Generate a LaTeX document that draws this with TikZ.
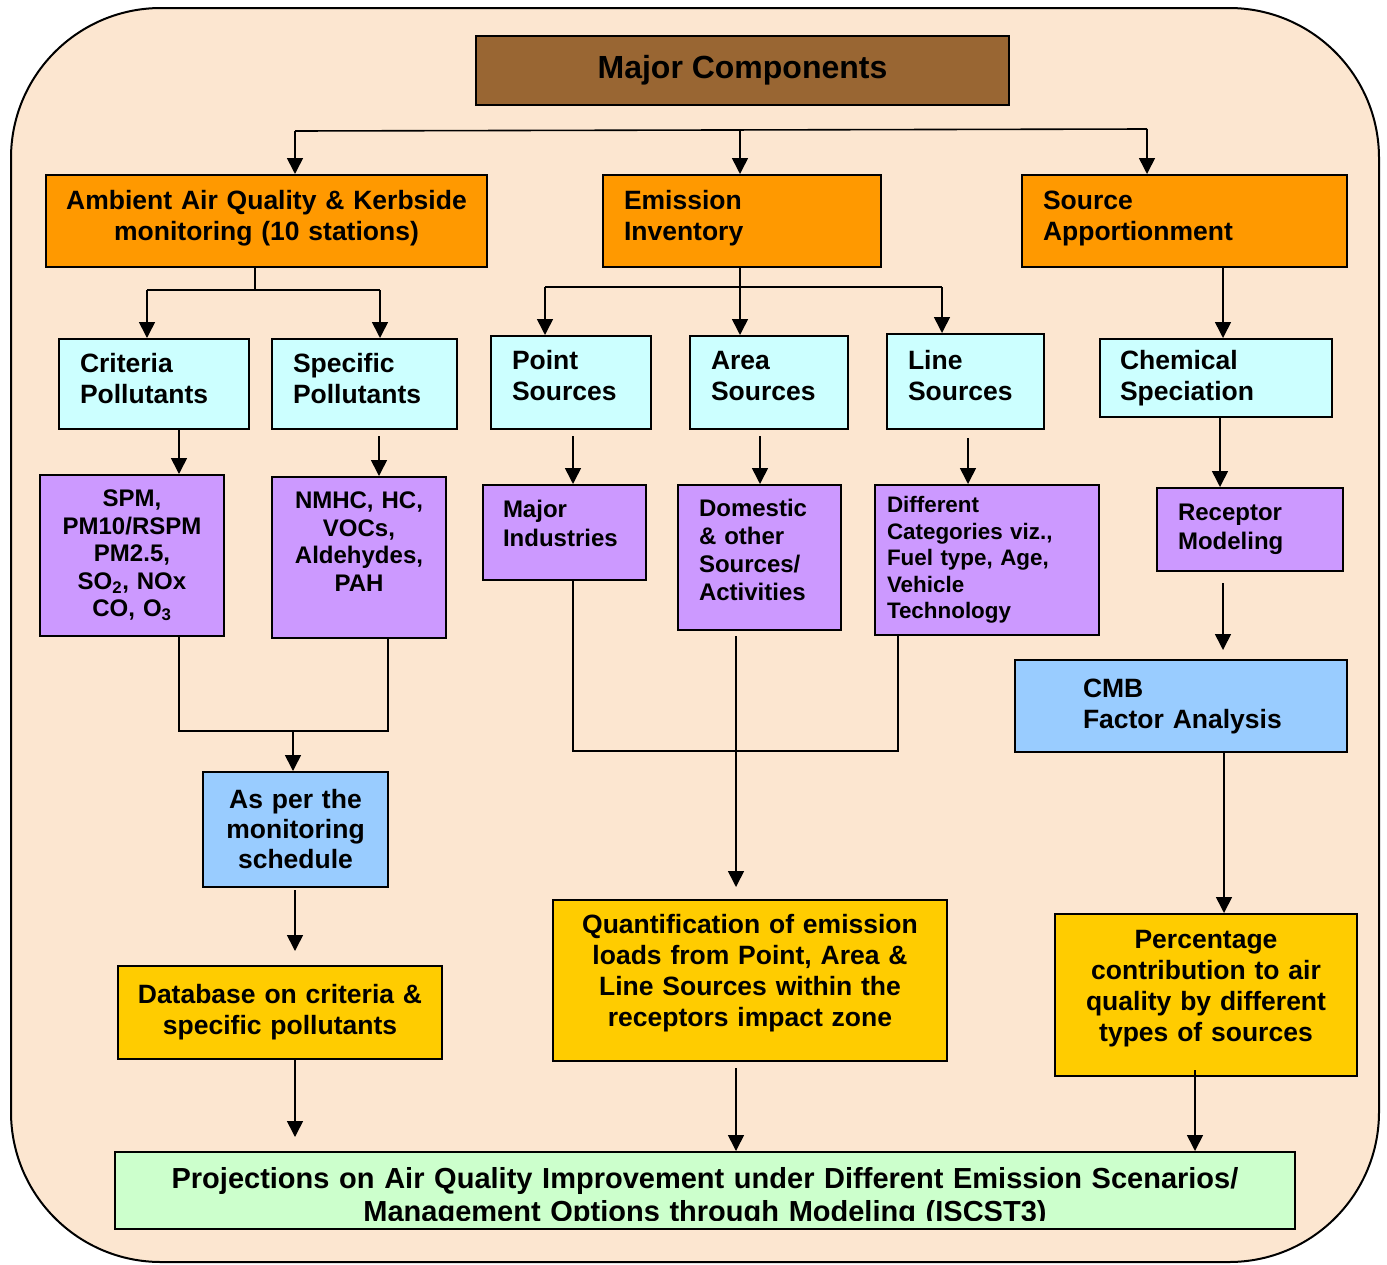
\documentclass[tikz,border=0pt]{standalone}
\usepackage{fontspec}
\setmainfont{Liberation Sans}
\usetikzlibrary{arrows.meta}
\definecolor{bgpeach}{RGB}{252,230,208}
\definecolor{cbrown}{RGB}{153,102,51}
\definecolor{corange}{RGB}{255,153,0}
\definecolor{ccyan}{RGB}{204,255,255}
\definecolor{cpurple}{RGB}{204,153,255}
\definecolor{cblue}{RGB}{153,204,255}
\definecolor{cgold}{RGB}{255,204,0}
\definecolor{cgreen}{RGB}{204,255,204}
\newcommand{\dpt}[1]{\rule[-#1]{0pt}{#1}}
\begin{document}
\begin{tikzpicture}[x=1pt,y=-1pt,
  box/.style={draw=black, line width=2pt, inner ysep=0pt, inner xsep=0pt,
    font=\bfseries\fontsize{26.5}{31}\selectfont},
  small/.style={font=\bfseries\fontsize{24}{27.5}\selectfont},
  ln/.style={line width=1.6pt},
  arr/.style={line width=1.6pt, -{Triangle[length=16pt,width=16pt]}},
]
\useasboundingbox (0,0) rectangle (1387,1264);
\draw[line width=2pt, fill=bgpeach, rounded corners=150pt] (11,8) rectangle (1379,1262);

% ---- level 1
\node[box, fill=cbrown, font=\bfseries\fontsize{32}{36}\selectfont,
      minimum width=533pt, minimum height=69pt] (major) at (742.5,70.5) {Major Components};

% ---- level 2
\node[box, fill=corange, text width=441pt, align=center, minimum height=92pt]
  (ambient) at (266.5,221) {Ambient Air Quality \& Kerbside\\monitoring (10 stations)\dpt{12pt}};
\node[box, fill=corange, text width=236pt, inner xsep=21pt, align=left, minimum height=92pt]
  (emission) at (742,221) {Emission\\Inventory\dpt{11pt}};
\node[box, fill=corange, text width=283pt, inner xsep=21pt, align=left, minimum height=92pt]
  (source) at (1184.5,221) {Source\\Apportionment\dpt{11pt}};

% ---- level 3
\node[box, fill=ccyan, text width=148pt, inner xsep=21pt, align=left, minimum height=90pt]
  (criteria) at (154,384) {Criteria\\Pollutants\dpt{11pt}};
\node[box, fill=ccyan, text width=143pt, inner xsep=21pt, align=left, minimum height=90pt]
  (specific) at (364.5,384) {Specific\\Pollutants\dpt{11pt}};
\node[box, fill=ccyan, text width=118pt, inner xsep=21pt, align=left, minimum height=93pt]
  (point) at (571,382.5) {Point\\Sources\dpt{14pt}};
\node[box, fill=ccyan, text width=116pt, inner xsep=21pt, align=left, minimum height=93pt]
  (area) at (769,382.5) {Area\\Sources\dpt{14pt}};
\node[box, fill=ccyan, text width=115pt, inner xsep=21pt, align=left, minimum height=95pt]
  (line) at (965.5,381.5) {Line\\Sources\dpt{13pt}};
\node[box, fill=ccyan, text width=192pt, inner xsep=20pt, align=left, minimum height=78pt]
  (chem) at (1216,378) {Chemical\\Speciation};

% ---- level 4
\node[box, small, fill=cpurple, text width=184pt, align=center, minimum height=161pt]
  (spm) at (132,555.5) {SPM,\\PM10/RSPM\\PM2.5,\\SO\textsubscript{2}, NOx\\CO, O\textsubscript{3}};
\node[box, small, fill=cpurple, text width=174pt, align=center, minimum height=161pt]
  (nmhc) at (359,557.5) {NMHC, HC,\\VOCs,\\Aldehydes,\\PAH\dpt{32pt}};
\node[box, fill=cpurple, font=\bfseries\fontsize{24}{29}\selectfont, text width=123pt, inner xsep=20pt,
  align=left, minimum height=95pt]
  (majind) at (564.5,532.5) {Major\\Industries\dpt{19pt}};
\node[box, fill=cpurple, font=\bfseries\fontsize{24}{28}\selectfont, text width=121pt, inner xsep=21pt,
  align=left, minimum height=145pt]
  (domestic) at (759.5,557.5) {Domestic\\\& other\\Sources/\\Activities\dpt{16pt}};
\node[box, fill=cpurple, font=\bfseries\fontsize{22.4}{26.5}\selectfont, text width=200pt, inner xsep=12pt,
  align=left, minimum height=150pt]
  (different) at (987,560) {Different\\Categories viz.,\\Fuel type, Age,\\Vehicle\\Technology};
\node[box, fill=cpurple, font=\bfseries\fontsize{24}{29}\selectfont, text width=144pt, inner xsep=21pt,
  align=left, minimum height=83pt]
  (receptor) at (1250,529.5) {Receptor\\Modeling};

% ---- lower boxes
\node[box, fill=cblue, font=\bfseries\fontsize{26.5}{30}\selectfont, text width=185pt, align=center,
  minimum height=115pt]
  (asper) at (295.5,829.5) {As per the\\monitoring\\schedule};
\node[box, fill=cblue, text width=196pt, inner xsep=68pt, align=left, minimum height=92pt]
  (cmb) at (1181,706) {CMB\\\mbox{Factor Analysis}};
\node[box, fill=cgold, text width=324pt, align=center, minimum height=93pt]
  (database) at (280,1012.5) {Database on criteria \&\\specific pollutants};
\node[box, fill=cgold, text width=394pt, align=center, minimum height=161pt]
  (quant) at (750,980.5) {Quantification of emission\\loads from Point, Area \&\\Line Sources within the\\receptors impact zone\dpt{20pt}};
\node[box, fill=cgold, text width=302pt, align=center, minimum height=162pt]
  (percent) at (1206,995) {Percentage\\contribution to air\\quality by different\\types of sources\dpt{19pt}};

\node[box, fill=cgreen, minimum width=1180pt, minimum height=77pt] (proj) at (705,1190.5) {};
\begin{scope}
  \clip (proj.north west) rectangle (1295,1220);
  \node[font=\bfseries\fontsize{29}{33}\selectfont, text width=1180pt, align=center,
        anchor=base, inner sep=0pt] (projtext) at (705,1188)
    {Projections on Air Quality Improvement under Different Emission Scenarios/\\Management Options through Modeling (ISCST3)};
\end{scope}

% ---- connectors: top
\coordinate (t1) at (295,131);
\coordinate (t2) at (740,130);
\coordinate (t3) at (1147,129);
\draw[ln] (t1) -- (t3);
\draw[arr] (t1) -- (t1 |- ambient.north);
\draw[arr] (t2) -- (t2 |- emission.north);
\draw[arr] (t3) -- (t3 |- source.north);

% ambient split
\coordinate (a0) at (255,290);
\coordinate (a1) at (147,290);
\coordinate (a2) at (380,290);
\draw[ln] (a0 |- ambient.south) -- (a0);
\draw[ln] (a1) -- (a2);
\draw[arr] (a1) -- (a1 |- criteria.north);
\draw[arr] (a2) -- (a2 |- specific.north);

% emission split
\coordinate (e1) at (545,287);
\coordinate (e2) at (740,287);
\coordinate (e3) at (942,287);
\draw[ln] (e1) -- (e3);
\draw[arr] (e2 |- emission.south) -- (e2 |- area.north);
\draw[arr] (e1) -- (e1 |- point.north);
\draw[arr] (e3) -- (e3 |- line.north);

% source apportionment
\coordinate (s0) at (1223,300);
\draw[arr] (s0 |- source.south) -- (s0 |- chem.north);

% level 3 -> 4
\coordinate (d1) at (179,429);
\coordinate (d2) at (379,436);
\coordinate (d3) at (573,436);
\coordinate (d4) at (760,436);
\coordinate (d5) at (968,438);
\coordinate (d6) at (1220,450);
\draw[arr] (d1) -- (d1 |- spm.north);
\draw[arr] (d2) -- (d2 |- nmhc.north);
\draw[arr] (d3) -- (d3 |- majind.north);
\draw[arr] (d4) -- (d4 |- domestic.north);
\draw[arr] (d5) -- (d5 |- different.north);
\draw[arr] (d6 |- chem.south) -- (d6 |- receptor.north);

% left merge
\coordinate (m1) at (179,731);
\coordinate (m2) at (388,731);
\coordinate (m3) at (293,731);
\draw[ln] (m1 |- spm.south) -- (m1) -- (m2) -- (m2 |- nmhc.south);
\draw[arr] (m3) -- (m3 |- asper.north);
\coordinate (p1) at (295,890);
\draw[arr, shorten >=14pt] (p1) -- (p1 |- database.north);
\coordinate (p2) at (295,1100);
\draw[arr, shorten >=14pt] (p2 |- database.south) -- (p2 |- proj.north);

% middle merge
\coordinate (n1) at (573,751);
\coordinate (n2) at (898,751);
\draw[ln] (n1 |- majind.south) -- (n1) -- (n2) -- (n2 |- different.south);
\coordinate (q1) at (736,636);
\draw[arr, shorten >=12pt] (q1) -- (q1 |- quant.north);
\coordinate (q2) at (736,1068);
\draw[arr] (q2) -- (q2 |- proj.north);

% right column
\coordinate (r1) at (1223,583);
\draw[arr, shorten >=9pt] (r1) -- (r1 |- cmb.north);
\coordinate (r2) at (1224,800);
\draw[arr] (r2 |- cmb.south) -- (r2 |- percent.north);
\coordinate (r3) at (1195,1070);
\draw[arr] (r3) -- (r3 |- proj.north);
\end{tikzpicture}
\end{document}
